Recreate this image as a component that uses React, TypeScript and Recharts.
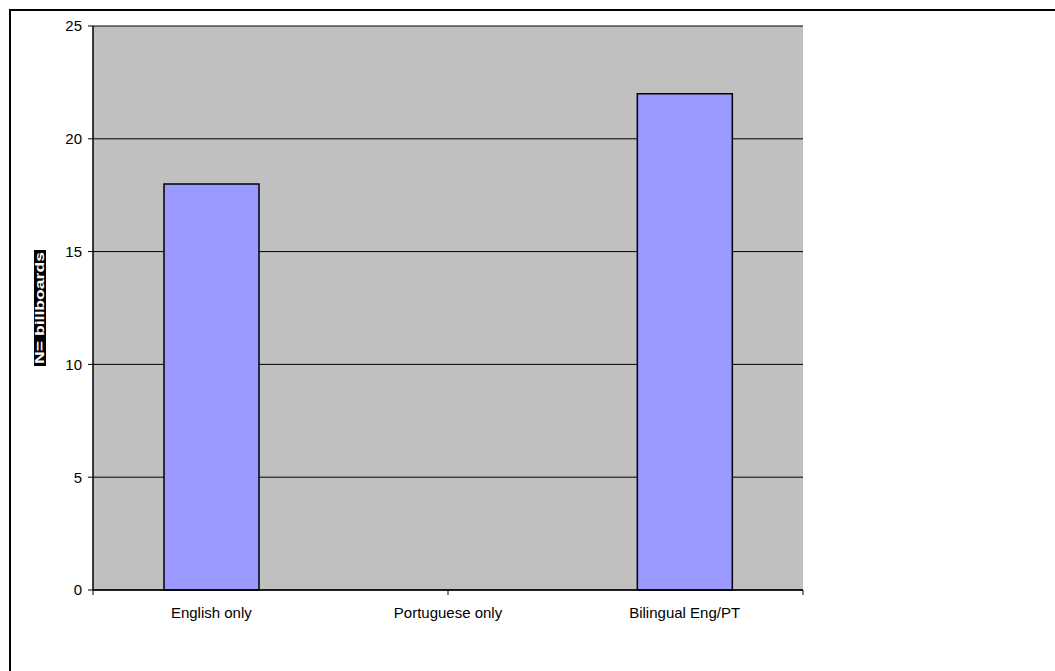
import { BarChart, Bar, XAxis, YAxis, CartesianGrid } from "recharts";

const categories = ["English only", "Portuguese only", "Bilingual Eng/PT"];
const billboards = [18, 0, 22];
const yTicks = [0, 5, 10, 15, 20, 25];
const boundaryTicks = [0, 1, 2, 3];

const data = categories.map((name, i) => ({ name, value: billboards[i] }));

const FONT = "'Liberation Sans', Arial, sans-serif";

function YLabel(props: any) {
  const { viewBox } = props;
  const cx = viewBox.x + 7;
  const cy = viewBox.y + viewBox.height / 2;
  return (
    <g transform={`rotate(-90, ${cx}, ${cy})`}>
      <rect x={cx - 58} y={cy - 6} width={116} height={12} fill="#000" />
      <text
        x={cx}
        y={cy}
        textAnchor="middle"
        dominantBaseline="central"
        fill="#fff"
        fontFamily={FONT}
        fontWeight="bold"
        fontSize={12}
        textLength={112}
        lengthAdjust="spacingAndGlyphs"
      >
        N= billboards
      </text>
    </g>
  );
}

export default function App() {
  return (
    <div style={{ position: "absolute", left: 0, top: 0, width: 1055, height: 671, background: "#fff" }}>
      <div
        style={{
          position: "absolute",
          left: 9,
          top: 9,
          right: 0,
          bottom: 0,
          borderTop: "2px solid #000",
          borderLeft: "2px solid #000",
        }}
      />
      <div style={{ position: "absolute", left: 0, top: 0 }}>
        <BarChart
          width={1055}
          height={671}
          data={data}
          margin={{ top: 26, right: 252, left: 33, bottom: 51 }}
          barCategoryGap="30%"
        >
          <CartesianGrid
            vertical={false}
            fill="#C0C0C0"
            fillOpacity={1}
            stroke="#000"
            strokeWidth={1}
            yAxisId="v"
            xAxisId="cat"
          />
          <XAxis
            xAxisId="b"
            type="number"
            domain={[0, 3]}
            ticks={boundaryTicks}
            tickFormatter={() => ""}
            axisLine={{ stroke: "#000", strokeWidth: 1.5 }}
            tickLine={{ stroke: "#000" }}
            tickSize={5}
            height={5}
          />
          <XAxis
            xAxisId="cat"
            dataKey="name"
            axisLine={false}
            tickLine={false}
            tickSize={0}
            tickMargin={12}
            height={25}
            interval={0}
            tick={{ fill: "#000", fontSize: 15, fontFamily: FONT }}
          />
          <XAxis xAxisId="top" orientation="top" dataKey="name" axisLine={{ stroke: "#808080", strokeWidth: 1.5 }} tick={false} tickLine={false} height={0} />
          <YAxis
            yAxisId="v"
            domain={[0, 25]}
            ticks={yTicks}
            interval={0}
            width={60}
            axisLine={{ stroke: "#000", strokeWidth: 1.5 }}
            tickLine={{ stroke: "#000" }}
            tickSize={5}
            tickMargin={6}
            tick={{ fill: "#000", fontSize: 15, fontFamily: FONT }}
            label={<YLabel />}
          />
          <YAxis yAxisId="r" orientation="right" domain={[0, 25]} axisLine={{ stroke: "#808080", strokeWidth: 1.5 }} tick={false} tickLine={false} width={0} />
          <Bar
            dataKey="value"
            xAxisId="cat"
            yAxisId="v"
            fill="#9999FF"
            stroke="#000"
            strokeWidth={1.5}
            isAnimationActive={false}
          />
        </BarChart>
      </div>
    </div>
  );
}
